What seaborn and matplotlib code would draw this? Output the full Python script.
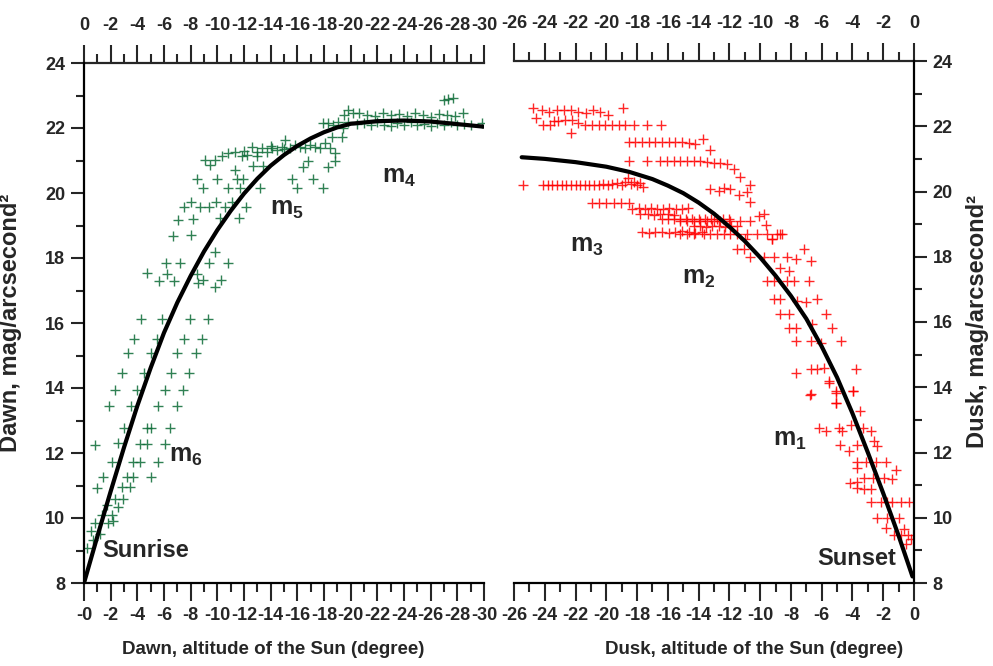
import matplotlib
matplotlib.use("Agg")
import matplotlib.pyplot as plt
from matplotlib import font_manager
from matplotlib.ticker import MultipleLocator
import pandas as pd
import seaborn as sns

# ---------------- data ----------------
# dawn (left panel), sun altitude in degrees, sky brightness mag/arcsec^2
dawn_low_alt = [-0.2, -0.5, -0.7, -0.83, -0.95, -0.83, -1.2, -1.33, -1.45, -1.7, -1.82, -2.08,
                -2.08, -2.2, -2.33, -2.57, -2.95, -2.83, -3.45, -3.2, -3.7, -3.7, -4.2, -5.0, -5.58]
dawn_low_mag = [9.07, 9.6, 9.32, 9.84, 10.91, 12.25, 9.5, 10.09, 11.27, 10.4, 9.84, 10.09,
                11.73, 9.9, 10.6, 10.35, 10.6, 10.96, 10.96, 11.27, 11.27, 11.73, 11.73, 11.27, 11.73]

dawn_grid_alt = [-2.57, -4.2, -4.7, -6.08, -3.0, -4.7, -5.0, -6.45, -1.9, -3.53, -5.58, -6.95,
                 -2.33, -4.0, -6.08, -7.4, -2.83, -4.5, -6.5, -7.9, -3.28, -5.0, -7.0, -8.38,
                 -3.75, -5.5, -7.5, -8.88, -4.25, -5.88, -7.95, -9.33]
dawn_grid_mag = [12.3, 12.27, 12.27, 12.27, 12.78, 12.78, 12.78, 12.78, 13.46, 13.46, 13.46, 13.46,
                 13.94, 13.94, 13.94, 13.94, 14.47, 14.47, 14.47, 14.47, 15.09, 15.09, 15.09, 15.09,
                 15.52, 15.52, 15.52, 15.52, 16.12, 16.12, 16.12, 16.12]

dawn_mid_alt = [-4.7, -5.65, -6.15, -6.25, -6.75, -7.2, -8.5, -8.58, -8.95, -9.4, -9.83, -10.3,
                -10.78, -9.83, -6.65, -8.0, -7.08, -8.2, -7.53, -8.0, -8.7, -9.4, -9.88, -10.58,
                -11.08, -12.15, -10.2, -11.65, -8.45, -10.0, -8.95, -10.83, -11.5, -11.95, -11.7,
                -13.2, -11.33, -12.7, -13.45]
dawn_mid_mag = [17.53, 17.3, 17.84, 17.5, 17.3, 17.84, 17.5, 17.22, 17.32, 17.84, 17.1, 17.32,
                17.84, 18.2, 18.68, 18.71, 19.17, 19.19, 19.58, 19.73, 19.56, 19.56, 19.73, 19.58,
                19.73, 19.58, 19.22, 19.22, 20.42, 20.42, 20.14, 20.14, 20.42, 20.42, 20.14,
                20.14, 20.71, 20.83, 20.83]

dawn_band_alt = [-9.08, -9.45, -9.83, -10.33, -10.83, -11.33, -11.83, -12.2, -12.58, -12.95,
                 -13.33, -13.7, -14.08, -14.45, -14.83, -15.08, -15.45, -15.83, -16.2, -16.58,
                 -16.95, -17.33, -17.7, -18.08, -18.45, -18.83, -18.33, -16.45, -16.83, -15.58,
                 -15.95, -17.2, -17.9, -18.83, -19.33, -18.58, -12.0, -13.0, -14.0, -15.0]
dawn_band_mag = [21.02, 20.86, 21.02, 21.13, 21.22, 21.27, 21.13, 21.17, 21.43, 21.13,
                 21.38, 21.27, 21.38, 21.32, 21.43, 21.63, 21.38, 21.48, 21.43, 21.38,
                 21.48, 21.43, 21.38, 21.53, 21.38, 20.97, 20.81, 20.81, 20.97, 20.42,
                 20.14, 20.42, 20.14, 21.22, 21.73, 21.73, 21.3, 21.25, 21.45, 21.35]

dawn_top_alt = [-17.95, -18.33, -18.7, -19.08, -19.45, -19.83, -20.2, -19.5, -19.8,
                -20.5, -21.0, -21.5, -22.0, -22.5, -23.0, -23.5, -24.0, -24.5, -25.0, -25.5,
                -26.0, -26.5, -27.0, -27.5, -28.0, -28.5, -29.0, -29.83,
                -20.6, -21.2, -21.8, -22.4, -23.0, -23.6, -24.2, -24.8, -25.4, -26.0, -26.6,
                -27.2, -27.8, -28.4, -27.0, -27.3, -27.7]
dawn_top_mag = [22.14, 22.14, 22.1, 22.19, 22.0, 22.2, 22.45, 22.4, 22.55,
                22.12, 22.15, 22.08, 22.18, 22.1, 22.05, 22.15, 22.1, 22.2, 22.08, 22.12,
                22.05, 22.15, 22.1, 22.18, 22.08, 22.12, 22.1, 22.14,
                22.45, 22.4, 22.38, 22.45, 22.4, 22.42, 22.38, 22.45, 22.4, 22.35, 22.42,
                22.4, 22.38, 22.45, 22.86, 22.9, 22.92]

# dawn fitted curve
dawn_fit_alt = [0, -1, -2, -3, -4, -5, -6, -7, -8, -9, -10, -11, -12, -13, -14, -15, -16, -17,
                -18, -19, -20, -22, -24, -26, -28, -30]
dawn_fit_mag = [8.0, 9.43, 10.82, 12.17, 13.45, 14.62, 15.7, 16.63, 17.45, 18.2, 18.86, 19.45,
                19.98, 20.44, 20.84, 21.17, 21.45, 21.68, 21.87, 22.02, 22.13, 22.21, 22.23,
                22.2, 22.12, 22.04]

# dusk (right panel)
dusk_top_alt = [-24.74, -24.2, -23.7, -23.22, -22.74, -22.29, -21.81, -21.31, -20.84, -20.4, -19.9,
                -18.94, -24.57, -24.09, -23.65, -23.11, -22.67, -22.24, -21.81, -21.37, -20.94,
                -20.5, -20.07, -19.63, -19.2, -18.77, -18.23, -17.36, -16.44, -22.29, -23.4]
dusk_top_mag = [22.55, 22.5, 22.45, 22.5, 22.5, 22.5, 22.45, 22.4, 22.5, 22.45, 22.35,
                22.55, 22.25, 22.05, 22.05, 22.15, 22.2, 22.2, 22.1, 22.05, 22.05,
                22.05, 22.05, 22.05, 22.05, 22.05, 22.05, 22.05, 22.05, 21.78, 22.15]

dusk_upper_alt = [-18.55, -18.12, -17.68, -17.25, -16.81, -16.38, -15.95, -15.51, -15.07, -14.64,
                  -14.21, -13.71, -13.23,
                  -18.55, -17.36, -16.49, -16.05, -15.62, -15.19, -14.75, -14.32, -13.88, -13.45,
                  -13.02, -12.58, -12.14, -11.71, -11.28, -10.67]
dusk_upper_mag = [21.53, 21.53, 21.53, 21.53, 21.53, 21.53, 21.53, 21.53, 21.53, 21.5,
                  21.45, 21.62, 21.26,
                  20.95, 20.95, 20.95, 20.95, 20.95, 20.95, 20.95, 20.95, 20.92, 20.9,
                  20.88, 20.86, 20.84, 20.7, 20.45, 20.2]

dusk_flat_alt = [-25.39, -24.1, -23.8, -23.5, -23.2, -22.9, -22.6, -22.3, -22.0, -21.7, -21.4,
                 -21.1, -20.8, -20.5, -20.2, -19.9, -19.6, -19.3, -19.0, -18.8, -18.6, -18.4,
                 -18.2, -18.0, -17.8, -17.6]
dusk_flat_mag = [20.2, 20.2, 20.2, 20.2, 20.2, 20.2, 20.2, 20.2, 20.2, 20.2, 20.2,
                 20.2, 20.2, 20.2, 20.22, 20.2, 20.22, 20.25, 20.2, 20.3, 20.4, 20.22,
                 20.3, 20.2, 20.25, 20.15]

dusk_mid_alt = [-20.94, -20.46, -19.99, -19.5, -19.03, -18.55,
                -18.3, -17.9, -17.5, -17.1, -16.7, -16.3, -15.9, -15.5, -15.1, -14.7,
                -17.8, -17.3, -16.9, -16.5, -16.0, -15.6,
                -16.4, -16.0, -15.6, -15.2, -14.8, -14.4, -14.0, -13.6, -13.2, -12.8, -12.4, -12.0,
                -14.3, -13.9, -13.5, -13.1, -12.7, -12.3, -11.9, -11.5,
                -17.68, -17.25, -16.81, -16.38, -15.95, -15.51, -15.07, -14.64, -14.21, -13.77,
                -13.24, -12.69, -12.37, -11.93, -11.39, -10.85, -10.63, -10.09, -9.65, -9.22,
                -8.68, -9.76,
                -15.19, -14.76, -14.32, -13.89, -13.45, -13.02, -12.58, -11.93, -11.28, -10.63,
                -15.19, -14.76, -14.32, -13.67, -13.24, -12.8, -12.37, -11.93, -11.5, -10.85,
                -10.2, -9.54, -8.89, -8.57, -11.0, -9.2]
dusk_mid_mag = [19.65, 19.65, 19.65, 19.65, 19.65, 19.65,
                19.47, 19.5, 19.45, 19.5, 19.47, 19.45, 19.5, 19.47, 19.45, 19.5,
                19.3, 19.3, 19.28, 19.32, 19.3, 19.28,
                19.17, 19.17, 19.15, 19.17, 19.17, 19.15, 19.17, 19.17, 19.15, 19.17, 19.17, 19.15,
                18.95, 18.95, 18.92, 18.95, 18.95, 18.92, 18.95, 18.95,
                18.75, 18.72, 18.75, 18.75, 18.72, 18.75, 18.78, 18.75, 18.72, 18.75,
                20.08, 20.03, 20.1, 20.08, 19.9, 20.0, 19.67, 19.26, 18.96, 18.55,
                18.7, 19.3,
                19.11, 19.11, 19.11, 19.11, 19.11, 19.11, 19.11, 19.11, 19.11, 19.11,
                18.7, 18.7, 18.7, 18.7, 18.7, 18.7, 18.7, 18.7, 18.7, 18.7,
                18.7, 18.7, 18.7, 18.7, 18.55, 18.55]

dusk_low_alt = [-11.5, -11.07, -10.63, -9.76, -9.11, -8.24, -7.7, -7.15, -6.72,
                -8.68, -8.13, -9.54, -9.11, -8.24, -7.8, -6.83,
                -9.11, -8.68, -7.59, -7.05, -6.29, -5.75,
                -8.68, -8.13, -6.61, -5.31, -4.77,
                -8.13, -7.7, -7.7, -6.72, -6.07,
                -7.7, -6.72, -6.29, -5.85, -3.79, -5.53, -6.72, -5.09, -3.94, -5.09,
                -5.53, -6.76, -5.09, -5.09, -3.94, -3.51,
                -6.18, -5.74, -4.87, -4.66, -4.11, -3.29, -2.81,
                -4.81, -4.22, -3.72, -2.59, -2.38,
                -3.68, -3.14, -2.49, -1.83, -3.72, -1.18,
                -4.16, -3.72, -3.25, -2.64, -1.94, -1.4,
                -3.68, -3.25, -2.81, -2.81, -2.16, -1.73, -1.4, -0.86, -0.31,
                -2.38, -1.77, -0.96, -1.83, -1.29, -0.86, -0.64, -0.53, -0.2, -0.42]
dusk_low_mag = [18.24, 18.24, 17.98, 17.98, 17.98, 17.98, 17.93, 18.24, 17.88,
                17.67, 17.57, 17.26, 17.26, 17.26, 17.26, 17.26,
                16.7, 16.7, 16.65, 16.6, 16.7, 16.24,
                16.24, 16.24, 15.93, 15.83, 15.42,
                15.83, 15.83, 15.42, 15.42, 15.37,
                14.44, 14.55, 14.55, 14.6, 14.55, 14.19, 13.78, 13.88, 13.9, 13.52,
                14.13, 13.75, 13.83, 13.52, 13.9, 13.26,
                12.75, 12.65, 12.75, 12.65, 12.85, 12.75, 12.65,
                12.22, 12.05, 12.24, 12.34, 12.19,
                11.72, 11.72, 11.72, 11.72, 11.52, 11.47,
                11.06, 11.11, 11.21, 11.21, 11.21, 11.19,
                10.9, 10.88, 10.88, 10.49, 10.49, 10.49, 10.47, 10.47, 10.47,
                9.98, 10.0, 10.0, 9.69, 9.47, 9.47, 9.67, 9.21, 9.36, 9.47]

# dusk fitted curve
dusk_fit_alt = [-25.5, -24, -22, -20, -18.5, -17, -16, -15, -14, -13, -12, -11, -10, -9, -8,
                -7, -6, -5, -4, -3, -2, -1, -0.1]
dusk_fit_mag = [21.05, 21.0, 20.9, 20.76, 20.6, 20.38, 20.18, 19.95, 19.66, 19.32, 18.92, 18.48,
                17.98, 17.42, 16.8, 16.1, 15.25, 14.3, 13.2, 12.0, 10.75, 9.45, 8.2]

dawn_ticks = list(range(0, -31, -2))
dawn_bottom_labels = ["-0"] + [str(t) for t in dawn_ticks[1:]]
dawn_top_labels = [str(t) for t in dawn_ticks]
dusk_ticks = list(range(-26, 1, 2))
dusk_labels = [str(t) for t in dusk_ticks]
mag_ticks = list(range(8, 25, 2))

GREEN = "#0c6b36"
RED = "#ff0000"

# ---------------- style ----------------
sns.set_style("white")
names = {f.name for f in font_manager.fontManager.ttflist}
FONT = "Liberation Sans Narrow" if "Liberation Sans Narrow" in names else "Liberation Sans"
plt.rcParams["font.family"] = [FONT, "DejaVu Sans"]
plt.rcParams["font.weight"] = "bold"
plt.rcParams["mathtext.fontset"] = "custom"
plt.rcParams["mathtext.rm"] = FONT + ":bold"
plt.rcParams["mathtext.it"] = FONT + ":bold"

dawn = pd.DataFrame({"alt": dawn_low_alt + dawn_grid_alt + dawn_mid_alt + dawn_band_alt + dawn_top_alt,
                     "mag": dawn_low_mag + dawn_grid_mag + dawn_mid_mag + dawn_band_mag + dawn_top_mag})
dusk = pd.DataFrame({"alt": dusk_top_alt + dusk_upper_alt + dusk_flat_alt + dusk_mid_alt + dusk_low_alt,
                     "mag": dusk_top_mag + dusk_upper_mag + dusk_flat_mag + dusk_mid_mag + dusk_low_mag})

fig = plt.figure(figsize=(9.93, 6.66), dpi=100)
ax1 = fig.add_axes([84 / 993, 83 / 666, 400 / 993, 520 / 666])
ax2 = fig.add_axes([514 / 993, 83 / 666, 400 / 993, 522 / 666])

TS = 13  # tick label size


def style_xaxis(axis, ticks, labels):
    axis.set_ticks(ticks)
    axis.set_ticklabels(labels, fontsize=TS, fontweight="bold")
    axis.set_minor_locator(MultipleLocator(1))


# left panel: dawn
sns.scatterplot(data=dawn, x="alt", y="mag", ax=ax1, marker="+", color=GREEN,
                s=50, linewidth=1.0, alpha=0.85, zorder=2)
sns.lineplot(x=dawn_fit_alt, y=dawn_fit_mag, ax=ax1, color="black", linewidth=3,
             estimator=None, zorder=3)
ax1.set_xlim(0, -30)
ax1.set_ylim(8, 24)
style_xaxis(ax1.xaxis, dawn_ticks, dawn_bottom_labels)
ax1.set_yticks(mag_ticks)
ax1.set_yticklabels([str(t) for t in mag_ticks], fontsize=TS, fontweight="bold")
ax1.yaxis.set_minor_locator(MultipleLocator(1))
ax1.spines["right"].set_visible(False)
ax1.spines["top"].set_visible(False)
sec1 = ax1.secondary_xaxis("top")
style_xaxis(sec1.xaxis, dawn_ticks, dawn_top_labels)
sec1.spines["top"].set_linewidth(1.6)
sec1.tick_params(which="major", length=13, width=1.5, pad=8, direction="out")
sec1.tick_params(which="minor", length=6.5, width=1.5, direction="out")
ax1.set_xlabel("Dawn, altitude of the Sun (degree)", fontsize=13.5, fontweight="bold")
ax1.xaxis.set_label_coords(0.474, -0.112)
ax1.set_ylabel("Dawn, mag/arcsecond²", fontsize=17, fontweight="bold")
ax1.yaxis.set_label_coords(-0.155, 0.5)

ax1.text(-1.35, 9.0, "Sunrise", fontsize=17, fontweight="bold", ha="left", va="center")
ax1.text(-7.65, 11.9, r"m$_6$", fontsize=18, fontweight="bold", ha="center", va="center")
ax1.text(-15.2, 19.5, r"m$_5$", fontsize=18, fontweight="bold", ha="center", va="center")
ax1.text(-23.6, 20.5, r"m$_4$", fontsize=18, fontweight="bold", ha="center", va="center")

# right panel: dusk
sns.scatterplot(data=dusk, x="alt", y="mag", ax=ax2, marker="+", color=RED,
                s=50, linewidth=1.0, alpha=0.85, zorder=2)
sns.lineplot(x=dusk_fit_alt, y=dusk_fit_mag, ax=ax2, color="black", linewidth=3,
             estimator=None, zorder=3)
ax2.set_xlim(-26, 0)
ax2.set_ylim(8, 24)
style_xaxis(ax2.xaxis, dusk_ticks, dusk_labels)
ax2.yaxis.tick_right()
ax2.yaxis.set_label_position("right")
ax2.set_yticks(mag_ticks)
ax2.set_yticklabels([str(t) for t in mag_ticks], fontsize=TS, fontweight="bold")
ax2.yaxis.set_minor_locator(MultipleLocator(1))
ax2.spines["left"].set_visible(False)
ax2.spines["top"].set_visible(False)
sec2 = ax2.secondary_xaxis("top")
style_xaxis(sec2.xaxis, dusk_ticks, dusk_labels)
sec2.spines["top"].set_linewidth(1.6)
sec2.tick_params(which="major", length=13, width=1.5, pad=8, direction="out")
sec2.tick_params(which="minor", length=6.5, width=1.5, direction="out")
ax2.set_xlabel("Dusk, altitude of the Sun (degree)", fontsize=13.5, fontweight="bold")
ax2.xaxis.set_label_coords(0.6, -0.112)
ax2.set_ylabel("Dusk, mag/arcsecond²", fontsize=17, fontweight="bold", rotation=90)
ax2.yaxis.set_label_coords(1.13, 0.5)

ax2.text(-21.24, 18.34, r"m$_3$", fontsize=18, fontweight="bold", ha="center", va="center")
ax2.text(-14.01, 17.35, r"m$_2$", fontsize=18, fontweight="bold", ha="center", va="center")
ax2.text(-8.08, 12.37, r"m$_1$", fontsize=18, fontweight="bold", ha="center", va="center")
ax2.text(-1.18, 8.74, "Sunset", fontsize=17, fontweight="bold", ha="right", va="center")

for ax in (ax1, ax2):
    for sp in ax.spines.values():
        sp.set_linewidth(1.6)
        sp.set_color("black")
    ax.tick_params(axis="x", which="major", length=13, width=1.5, pad=4, direction="out", bottom=True)
    ax.tick_params(axis="x", which="minor", length=6.5, width=1.5, direction="out", bottom=True)
    ax.tick_params(axis="y", which="major", length=9.5, width=1.5, pad=4, direction="out")
    ax.tick_params(axis="y", which="minor", length=5.5, width=1.5, direction="out")
ax1.tick_params(axis="y", which="both", left=True, right=False)
ax2.tick_params(axis="y", which="both", left=False, right=True)

fig.savefig("out.png", dpi=100)
